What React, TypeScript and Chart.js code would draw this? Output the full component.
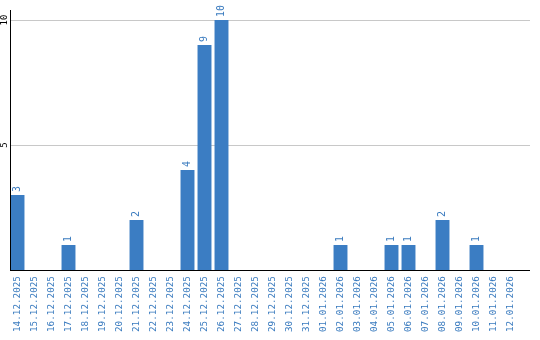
import React, { useEffect, useRef } from "react";
import { Chart, registerables } from "chart.js";

Chart.register(...registerables);

const dateLabels: string[] = [
  "14.12.2025", "15.12.2025", "16.12.2025", "17.12.2025", "18.12.2025", "19.12.2025",
  "20.12.2025", "21.12.2025", "22.12.2025", "23.12.2025", "24.12.2025", "25.12.2025",
  "26.12.2025", "27.12.2025", "28.12.2025", "29.12.2025", "30.12.2025", "31.12.2025",
  "01.01.2026", "02.01.2026", "03.01.2026", "04.01.2026", "05.01.2026", "06.01.2026",
  "07.01.2026", "08.01.2026", "09.01.2026", "10.01.2026", "11.01.2026", "12.01.2026",
];

const counts: number[] = [
  3, 0, 0, 1, 0, 0,
  0, 2, 0, 0, 4, 9,
  10, 0, 0, 0, 0, 0,
  0, 1, 0, 0, 1, 1,
  0, 2, 0, 1, 0, 0,
];

const yTickValues: number[] = [5, 10];

const BAR_COLOR = "#3b7dc3";
const TEXT_BLUE = "#3a7bbf";
const FONT = "'DejaVu Sans Mono', 'Liberation Mono', monospace";

const customDraw = {
  id: "customDraw",
  beforeDatasetsDraw(chart: any) {
    const ctx = chart.ctx;
    const y = chart.scales.y;
    const left = 10;
    const right = 530;
    ctx.save();
    ctx.fillStyle = "#c8c8c8";
    yTickValues.forEach((v) => {
      const py = Math.round(y.getPixelForValue(v));
      ctx.fillRect(left, py, right - left, 1);
    });
    ctx.restore();
  },
  afterDatasetsDraw(chart: any) {
    const ctx = chart.ctx;
    const y = chart.scales.y;
    const ds = chart.data.datasets[0];
    const meta = chart.getDatasetMeta(0);
    ctx.save();
    ctx.fillStyle = "#000";
    const bottom = Math.round(y.getPixelForValue(0));
    ctx.fillRect(10, 10, 1, bottom - 10 + 1);
    ctx.fillRect(10, bottom, 520, 1);
    ctx.font = `9px ${FONT}`;
    ctx.textAlign = "center";
    ctx.textBaseline = "middle";
    yTickValues.forEach((v) => {
      const py = y.getPixelForValue(v);
      ctx.save();
      ctx.translate(5, py);
      ctx.rotate(-Math.PI / 2);
      ctx.fillText(String(v), 0, 0);
      ctx.restore();
    });
    ctx.fillStyle = TEXT_BLUE;
    ctx.font = `10px ${FONT}`;
    ctx.textAlign = "left";
    meta.data.forEach((bar: any, i: number) => {
      const v = ds.data[i];
      if (!v) return;
      ctx.save();
      ctx.translate(bar.x, bar.y - 3);
      ctx.rotate(-Math.PI / 2);
      ctx.fillText(String(v), 0, 0);
      ctx.restore();
    });
    ctx.restore();
  },
};

export default function App() {
  const ref = useRef<HTMLCanvasElement | null>(null);
  useEffect(() => {
    document.body.style.margin = "0";
    const chart = new Chart(ref.current as HTMLCanvasElement, {
      type: "bar",
      data: {
        labels: dateLabels,
        datasets: [
          {
            data: counts,
            backgroundColor: BAR_COLOR,
            barPercentage: 0.82,
            categoryPercentage: 1,
          },
        ],
      },
      options: {
        responsive: false,
        animation: false,
        layout: { padding: { left: 9, right: 21, top: 20, bottom: 2 } },
        plugins: { legend: { display: false }, tooltip: { enabled: false } },
        scales: {
          x: {
            grid: { display: false, drawTicks: false },
            border: { display: false },
            ticks: {
              autoSkip: false,
              minRotation: 90,
              maxRotation: 90,
              padding: 6,
              color: TEXT_BLUE,
              font: { family: FONT, size: 9.3 },
            },
          },
          y: {
            display: false,
            min: 0,
            max: 10,
          },
        },
      },
      plugins: [customDraw],
    });
    return () => chart.destroy();
  }, []);
  return <canvas ref={ref} width={540} height={340} style={{ display: "block" }} />;
}
